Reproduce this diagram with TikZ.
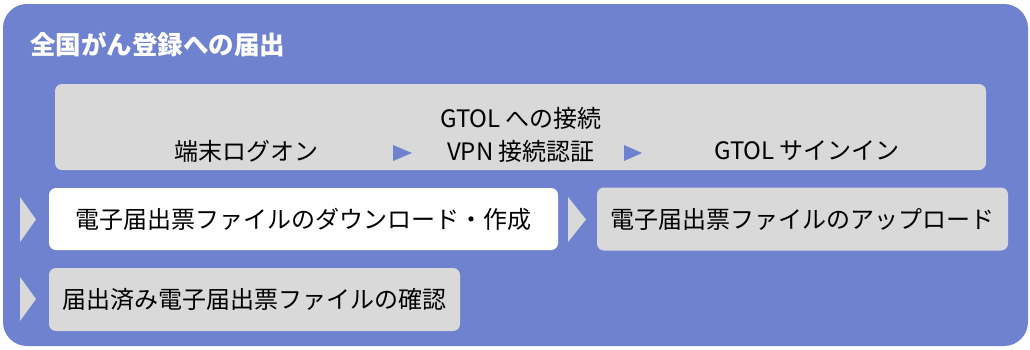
\documentclass[tikz,border=0pt]{standalone}
\usepackage{fontspec}
\setmainfont{Noto Sans CJK JP}
\usetikzlibrary{positioning}
\definecolor{panelblue}{HTML}{6F82CF}
\definecolor{stepgray}{HTML}{D9D9D9}

\begin{document}
\begin{tikzpicture}[x=1pt, y=-1pt,
    stepbox/.style={rounded corners=7pt, inner sep=0pt, font=\fontsize{24}{33}\selectfont},
    steptext/.style={inner sep=0pt, font=\fontsize{24}{33}\selectfont, align=center}]
        \useasboundingbox (0,0) rectangle (1030,349);

        % outer panel
        \fill[panelblue, rounded corners=24pt] (3,4) rectangle (1028,346);
        \node[inner sep=0pt, anchor=west, text=white, font=\fontsize{25.5}{30}\selectfont\bfseries] (title) at (30,45) {全国がん登録への届出};

        % top row: login steps
        \node[stepbox, fill=stepgray, minimum width=931pt, minimum height=86pt] (login) at (520.5,127) {};
        \node[steptext] (logon) at (246,151) {端末ログオン};
        \node[steptext] (vpn) at (521,134.5) {GTOL への接続\\VPN 接続認証};
        \node[steptext] (signin) at (807,151) {GTOL サインイン};
        \fill[panelblue] (393,145) -- (412,153) -- (393,161) -- cycle;
        \fill[panelblue] (624,145) -- (642,153) -- (624,161) -- cycle;

        % second row
        \node[stepbox, fill=white, minimum width=509pt, minimum height=62pt] (download) at (303.5,219) {電子届出票ファイルのダウンロード・作成};
        \node[stepbox, fill=stepgray, minimum width=411pt, minimum height=63pt] (upload) at (802.5,219) {電子届出票ファイルのアップロード};
        \fill[stepgray] (20,197) -- (36,219.5) -- (20,242) -- cycle;
        \fill[stepgray] (568,197) -- (586,219.5) -- (568,242) -- cycle;

        % third row
        \node[stepbox, fill=stepgray, minimum width=411pt, minimum height=63pt] (confirm) at (254.5,299.5) {届出済み電子届出票ファイルの確認};
        \fill[stepgray] (20,277) -- (36,299) -- (20,321) -- cycle;
    \end{tikzpicture}
\end{document}
